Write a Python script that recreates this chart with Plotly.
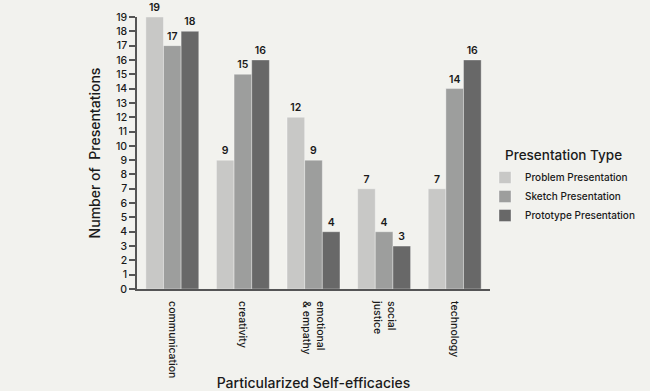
import plotly.graph_objects as go

categories = ["communication", "creativity", "emotional<br>& empathy", "social<br>justice", "technology"]
series_names = ["Problem Presentation", "Sketch Presentation", "Prototype Presentation"]
problem = [19, 9, 12, 7, 7]
sketch = [17, 15, 9, 4, 14]
prototype = [18, 16, 4, 3, 16]
colors = ["#c8c8c6", "#9d9e9d", "#686868"]
y_ticks = list(range(0, 20))

FONT = "Inter, 'Noto Sans', sans-serif"
TXT = "#1a1a1a"

fig = go.Figure()
for name, vals, col in zip(series_names, [problem, sketch, prototype], colors):
    fig.add_trace(go.Bar(
        x=categories, y=vals, name=name,
        marker=dict(color=col, line=dict(color="rgba(255,255,255,0.35)", width=1)),
        text=[str(v) for v in vals], textposition="outside",
        textfont=dict(family=FONT, size=10.5, color=TXT, weight=600),
        cliponaxis=False,
    ))

fig.update_layout(
    width=650, height=391,
    paper_bgcolor="#f2f2ee", plot_bgcolor="#f2f2ee",
    margin=dict(l=137, r=160, t=17, b=102, autoexpand=False),
    barmode="group", bargap=0.25, bargroupgap=0,
    font=dict(family=FONT, color=TXT),
    legend=dict(
        xref="container", yref="container",
        x=485 / 650, y=1 - 163 / 391, xanchor="left", yanchor="top",
        font=dict(size=10, family=FONT, color=TXT, weight=500),
        bgcolor="rgba(0,0,0,0)", itemwidth=30, tracegroupgap=0,
    ),
    showlegend=True,
    annotations=[dict(
        text="Presentation Type", xref="paper", yref="paper",
        x=(503 - 137) / 353, y=(289 - 155) / 272, xanchor="left", yanchor="middle",
        showarrow=False, font=dict(size=13.5, family=FONT, color=TXT, weight=500),
    )],
)
fig.update_xaxes(
    showline=True, linecolor="#555555", linewidth=2, automargin=False,
    tickangle=90, tickfont=dict(size=10.5, family=FONT, color=TXT, weight=500),
    ticks="", showgrid=False, ticklabelstandoff=8,
    title=dict(text="Particularized Self-efficacies", font=dict(size=14, family=FONT, color=TXT, weight=500), standoff=6),
)
fig.update_yaxes(
    range=[0, 19], tickvals=y_ticks, showline=True, linecolor="#555555", linewidth=1.5, automargin=False,
    ticks="outside", ticklen=6, tickcolor="#555555", tickwidth=1.5,
    tickfont=dict(size=10.5, family=FONT, color=TXT, weight=500),
    showgrid=False, zeroline=False,
    title=dict(text="Number of  Presentations", font=dict(size=14, family=FONT, color=TXT, weight=500), standoff=12),
)

fig.write_html(
    "out.html",
    config={"displayModeBar": False},
    post_script="document.body.style.margin='0';document.body.style.background='#f2f2ee';",
)
